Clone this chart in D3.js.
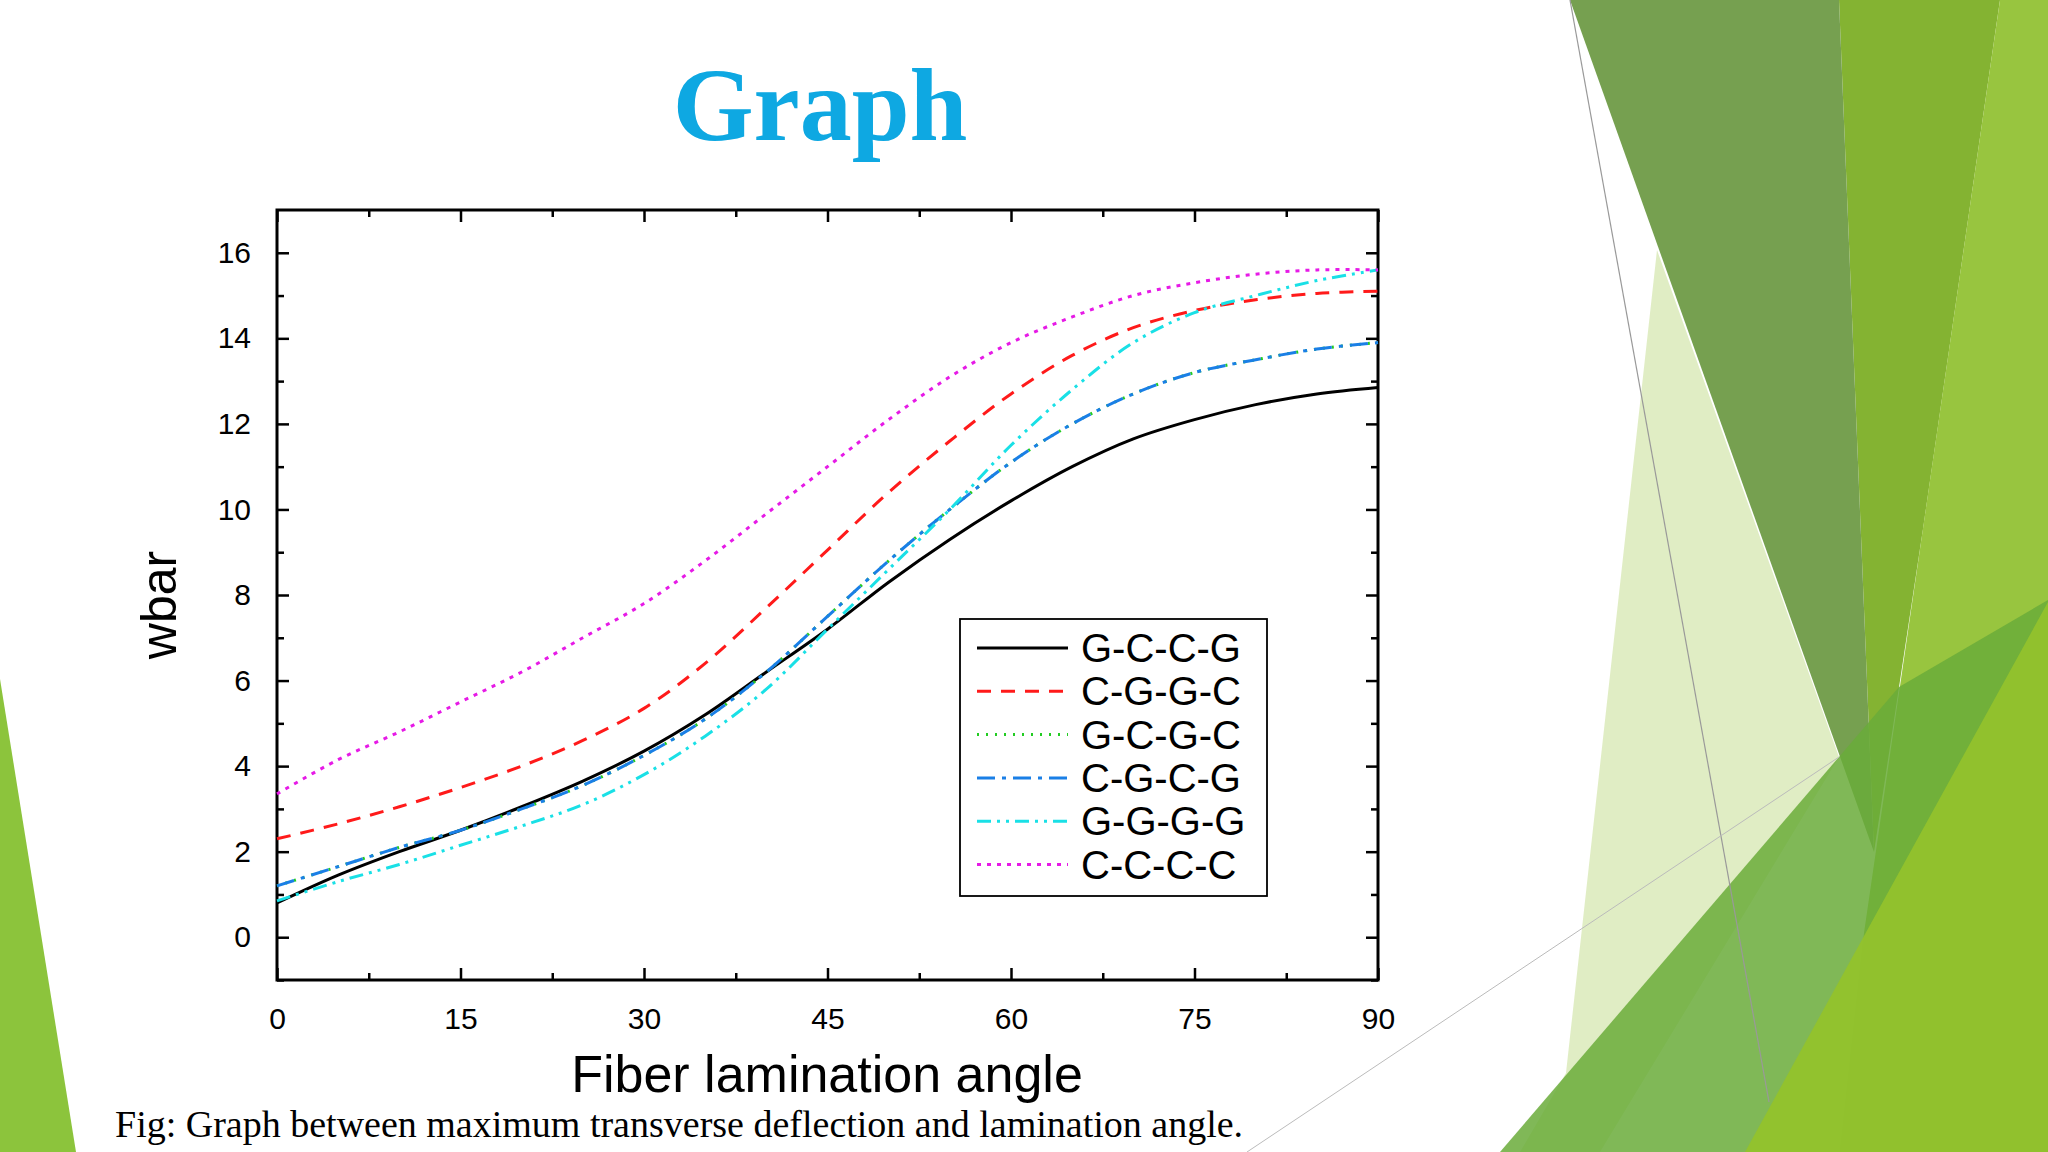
<!DOCTYPE html>
<html><head><meta charset="utf-8">
<script src="https://cdn.jsdelivr.net/npm/d3@7"></script>
<style>body{margin:0;background:#fff}svg{display:block}</style>
</head><body>
<svg id="c" width="2048" height="1152"></svg>
<script>
const angles = [0,5,10,15,20,25,30,35,40,45,50,55,60,65,70,75,80,85,90];
const gccg = [0.8,1.45,2.0,2.5,3.05,3.65,4.35,5.2,6.2,7.2,8.3,9.3,10.2,11.0,11.65,12.1,12.45,12.7,12.85];
const cggc = [2.3,2.65,3.05,3.5,4.0,4.6,5.35,6.4,7.7,9.05,10.4,11.6,12.7,13.6,14.25,14.65,14.9,15.05,15.1];
const gcgc = [1.2,1.65,2.1,2.5,3.0,3.55,4.25,5.1,6.2,7.5,8.8,10.0,11.1,12.0,12.7,13.2,13.5,13.75,13.9];
const cgcg = [1.2,1.65,2.1,2.5,3.0,3.55,4.25,5.1,6.2,7.5,8.8,10.0,11.1,12.0,12.7,13.2,13.5,13.75,13.9];
const gggg = [0.85,1.3,1.7,2.15,2.6,3.1,3.8,4.7,5.8,7.2,8.6,10.0,11.5,12.8,13.9,14.6,15.0,15.35,15.6];
const cccc = [3.35,4.15,4.8,5.5,6.2,7.0,7.8,8.8,9.9,11.0,12.1,13.1,13.9,14.5,15.0,15.3,15.5,15.6,15.6];
const seriesNames = ["G-C-C-G","C-G-G-C","G-C-G-C","C-G-C-G","G-G-G-G","C-C-C-C"];
const xTicks = [0,15,30,45,60,75,90];
const yTicks = [0,2,4,6,8,10,12,14,16];

const styles = [
 {c:"#000000",d:null,w:3},
 {c:"#ff1a1a",d:"14,10",w:3},
 {c:"#22cc22",d:"2,7",w:3},
 {c:"#1a7fe6",d:"18,7,4,7",w:3},
 {c:"#19e0e6",d:"14,6,3,6,3,6",w:3},
 {c:"#e61ae6",d:"4,6",w:3}
];
const data = [gccg,cggc,gcgc,cgcg,gggg,cccc];
const svg = d3.select("#c");

const bg = svg.append("g");
const polys = [
 {p:[[0,679],[76,1152],[0,1152]],f:"#8cc43c",o:1},
 {p:[[1839,0],[2000,0],[1923,529],[1874,852]],f:"#84b332",o:1},
 {p:[[2000,0],[2048,0],[2048,1152],[1840,1152],[1864,933]],f:"#98c53f",o:1},
 {p:[[1570,0],[1839,0],[1874,852]],f:"#76a050",o:1},
 {p:[[1657,250],[1839,757],[1600,1152],[1520,1152],[1566,1073]],f:"#d8e8b5",o:0.8},
 {p:[[1500,1152],[1899,687],[2048,600],[2048,1152]],f:"#6aab3a",o:0.85},
 {p:[[1745,1152],[2048,602],[2048,1152]],f:"#92c22c",o:0.95}
];
polys.forEach(q=>bg.append("polygon").attr("points",q.p.map(d=>d.join(",")).join(" ")).attr("fill",q.f).attr("opacity",q.o));
bg.append("line").attr("x1",1570).attr("y1",0).attr("x2",1769).attr("y2",1102).attr("stroke","#999").attr("stroke-width",1.2);
bg.append("line").attr("x1",1247).attr("y1",1152).attr("x2",1839).attr("y2",757).attr("stroke","#bbb").attr("stroke-width",1);

svg.append("text").attr("x",820).attr("y",140).attr("text-anchor","middle")
 .attr("font-family","Liberation Serif, serif").attr("font-weight","bold").attr("font-size",104)
 .attr("fill","#0ea8e2").text("Graph");

const L=277,R=1378,T=210,B=980;
const x = d3.scaleLinear().domain([0,90]).range([L,R]);
const y = d3.scaleLinear().domain([-1,17]).range([B,T]);
const g = svg.append("g");
g.append("rect").attr("x",L).attr("y",T).attr("width",R-L).attr("height",B-T).attr("fill","#fff").attr("stroke","#000").attr("stroke-width",3);

const fontA="Liberation Sans, Arial, sans-serif";
function axis(gen,tr){
  const a=g.append("g").attr("transform",tr).call(gen);
  a.select(".domain").remove();
  a.selectAll("line").attr("stroke","#000").attr("stroke-width",2.5);
  a.selectAll("text").attr("font-family",fontA).attr("font-size",30).attr("fill","#000");
  return a;
}
axis(d3.axisBottom(x).tickValues(xTicks).tickSize(-12).tickPadding(28).tickFormat(d3.format("d")),`translate(0,${B})`);
axis(d3.axisBottom(x).tickValues(d3.range(7.5,90,15)).tickSize(-7).tickFormat(""),`translate(0,${B})`);
axis(d3.axisTop(x).tickValues(xTicks).tickSize(-12).tickFormat(""),`translate(0,${T})`);
axis(d3.axisTop(x).tickValues(d3.range(7.5,90,15)).tickSize(-7).tickFormat(""),`translate(0,${T})`);
axis(d3.axisLeft(y).tickValues(yTicks).tickSize(-12).tickPadding(26).tickFormat(d3.format("d")),`translate(${L},0)`);
axis(d3.axisLeft(y).tickValues(d3.range(-1,17,2)).tickSize(-7).tickFormat(""),`translate(${L},0)`);
axis(d3.axisRight(y).tickValues(yTicks).tickSize(-12).tickFormat(""),`translate(${R},0)`);
axis(d3.axisRight(y).tickValues(d3.range(-1,17,2)).tickSize(-7).tickFormat(""),`translate(${R},0)`);

const line = d3.line().x((d,i)=>x(angles[i])).y(d=>y(d)).curve(d3.curveCatmullRom.alpha(0.5));
data.forEach((s,k)=>{
  g.append("path").attr("d",line(s)).attr("fill","none").attr("stroke",styles[k].c)
   .attr("stroke-width",styles[k].w).attr("stroke-dasharray",styles[k].d);
});

const lg=svg.append("g");
lg.append("rect").attr("x",960).attr("y",619).attr("width",307).attr("height",277).attr("fill","#fff").attr("stroke","#000").attr("stroke-width",1.8);
seriesNames.forEach((n,k)=>{
  const yy=648+k*43.3;
  lg.append("line").attr("x1",977).attr("x2",1068).attr("y1",yy).attr("y2",yy)
   .attr("stroke",styles[k].c).attr("stroke-width",3).attr("stroke-dasharray",styles[k].d);
  lg.append("text").attr("x",1081).attr("y",yy+14).attr("font-family",fontA).attr("font-size",40).text(n);
});

svg.append("text").attr("x",827).attr("y",1092).attr("text-anchor","middle").attr("font-family",fontA).attr("font-size",52).text("Fiber lamination angle");
svg.append("text").attr("transform","translate(176,605) rotate(-90)").attr("text-anchor","middle").attr("font-family",fontA).attr("font-size",50).text("wbar");
svg.append("text").attr("x",115).attr("y",1137).attr("font-family","Liberation Serif, serif").attr("font-size",38).text("Fig: Graph between maximum transverse deflection and lamination angle.");
</script>
</body></html>
